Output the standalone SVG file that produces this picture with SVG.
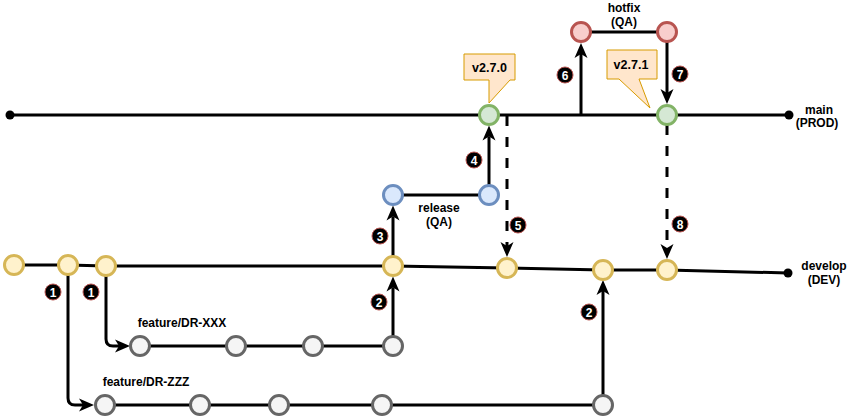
<svg xmlns="http://www.w3.org/2000/svg" width="860" height="416" viewBox="0 0 860 416">
<style>
.ln{fill:none;stroke:#000;stroke-width:3;}
.dash{fill:none;stroke:#000;stroke-width:3;stroke-dasharray:10 11;}
.arr{marker-end:url(#ah);}
.n{stroke-width:3;}
.y{fill:#fff2cc;stroke:#d6b656;}
.g{fill:#f5f5f5;stroke:#666666;}
.b{fill:#dae8fc;stroke:#6c8ebf;}
.gr{fill:#d5e8d4;stroke:#82b366;}
.r{fill:#f8cecc;stroke:#b85450;}
.co{fill:#ffe6cc;stroke:#d79b00;stroke-width:1;}
.lbl{font-family:"Liberation Sans",Arial,sans-serif;font-weight:bold;font-size:12px;fill:#000;text-anchor:middle;}
.tag{font-size:12.5px;}
.bd circle{fill:#000;stroke:#b85450;stroke-width:1;}
.bd text{font-family:"Liberation Sans",Arial,sans-serif;font-weight:bold;font-size:12px;fill:#fff;text-anchor:middle;}
</style>
<defs>
<marker id="ah" viewBox="0 0 15 14" refX="4" refY="7" markerWidth="15" markerHeight="14" markerUnits="userSpaceOnUse" orient="auto">
<path d="M0,0.5 L15,7 L0,13.5 L4,7 Z" fill="#000"/>
</marker>
</defs>
<rect width="860" height="416" fill="#fff"/>
<g id="connectors">
<line class="ln" x1="10" y1="115" x2="789" y2="115"/>
<circle cx="10" cy="115" r="4.5" fill="#000"/>
<circle cx="789" cy="115" r="4.5" fill="#000"/>
<polyline class="ln" points="14,265 68,265 106,266 393,266 507,268 603,270 667,270 788,273"/>
<circle cx="788" cy="273" r="4.5" fill="#000"/>
<path class="ln arr" d="M106,275 V339 Q106,346 113,346 H119"/>
<path class="ln arr" d="M68,274 V398 Q68,405 75,405 H83"/>
<line class="ln" x1="140" y1="346" x2="393" y2="346"/>
<line class="ln" x1="106" y1="405" x2="603" y2="405"/>
<line class="ln arr" x1="393" y1="336" x2="393" y2="287.5"/>
<line class="ln arr" x1="603" y1="395" x2="603" y2="291"/>
<line class="ln arr" x1="393" y1="256" x2="393" y2="216.5"/>
<line class="ln" x1="393" y1="195" x2="489" y2="195"/>
<line class="ln arr" x1="489" y1="185" x2="489" y2="136.5"/>
<line class="dash arr" x1="507" y1="116" x2="507" y2="246"/>
<line class="ln arr" x1="581" y1="114" x2="581" y2="54"/>
<line class="ln" x1="581" y1="32" x2="667" y2="32"/>
<line class="ln arr" x1="667" y1="42" x2="667" y2="93"/>
<line class="dash arr" x1="667" y1="125" x2="667" y2="248"/>
</g>
<g id="develop-nodes">
<circle class="n y" cx="14" cy="265" r="9.5"/>
<circle class="n y" cx="68" cy="265" r="9.5"/>
<circle class="n y" cx="106" cy="266" r="9.5"/>
<circle class="n y" cx="393" cy="266" r="9.5"/>
<circle class="n y" cx="507" cy="268" r="9.5"/>
<circle class="n y" cx="603" cy="270" r="9.5"/>
<circle class="n y" cx="667" cy="270" r="9.5"/>
</g>
<g id="feature-xxx-nodes">
<circle class="n g" cx="140" cy="346" r="9.5"/>
<circle class="n g" cx="236" cy="346" r="9.5"/>
<circle class="n g" cx="313" cy="346" r="9.5"/>
<circle class="n g" cx="393" cy="346" r="9.5"/>
</g>
<g id="feature-zzz-nodes">
<circle class="n g" cx="105" cy="405" r="9.5"/>
<circle class="n g" cx="200" cy="405" r="9.5"/>
<circle class="n g" cx="279" cy="405" r="9.5"/>
<circle class="n g" cx="382" cy="405" r="9.5"/>
<circle class="n g" cx="603" cy="405" r="9.5"/>
</g>
<g id="release-nodes">
<circle class="n b" cx="393" cy="195" r="9.5"/>
<circle class="n b" cx="489" cy="195" r="9.5"/>
</g>
<g id="main-nodes">
<circle class="n gr" cx="489" cy="115" r="9.5"/>
<circle class="n gr" cx="667" cy="115" r="9.5"/>
</g>
<g id="hotfix-nodes">
<circle class="n r" cx="581" cy="32" r="9.5"/>
<circle class="n r" cx="667" cy="32" r="9.5"/>
</g>
<g id="tag-v270">
<polygon class="co" points="464,54 515,54 515,80 510,80 489,103 489,80 464,80"/>
<text class="lbl tag" x="489.5" y="72">v2.7.0</text>
</g>
<g id="tag-v271">
<polygon class="co" points="607,50 657,50 657,79 639,79 650,108 619,79 607,79"/>
<text class="lbl tag" x="631" y="69">v2.7.1</text>
</g>
<g id="labels">
<text class="lbl" x="819" y="114">main</text>
<text class="lbl" x="817" y="127">(PROD)</text>
<text class="lbl" x="824" y="270">develop</text>
<text class="lbl" x="824" y="284">(DEV)</text>
<text class="lbl" x="439" y="212">release</text>
<text class="lbl" x="439" y="226">(QA)</text>
<text class="lbl" x="624" y="12">hotfix</text>
<text class="lbl" x="624" y="26">(QA)</text>
<text class="lbl" x="182" y="327">feature/DR-XXX</text>
<text class="lbl" x="146" y="386">feature/DR-ZZZ</text>
</g>
<g id="badges" class="bd">
<g><circle cx="53" cy="292" r="8"/><text x="53" y="296.5">1</text></g>
<g><circle cx="91" cy="292" r="8"/><text x="91" y="296.5">1</text></g>
<g><circle cx="379" cy="302" r="8"/><text x="379" y="306.5">2</text></g>
<g><circle cx="589" cy="312" r="8"/><text x="589" y="316.5">2</text></g>
<g><circle cx="380" cy="236" r="8"/><text x="380" y="240.5">3</text></g>
<g><circle cx="474" cy="160" r="8"/><text x="474" y="164.5">4</text></g>
<g><circle cx="518" cy="225" r="8"/><text x="518" y="229.5">5</text></g>
<g><circle cx="565" cy="75" r="8"/><text x="565" y="79.5">6</text></g>
<g><circle cx="680" cy="74" r="8"/><text x="680" y="78.5">7</text></g>
<g><circle cx="680" cy="224" r="8"/><text x="680" y="228.5">8</text></g>
</g>
</svg>
